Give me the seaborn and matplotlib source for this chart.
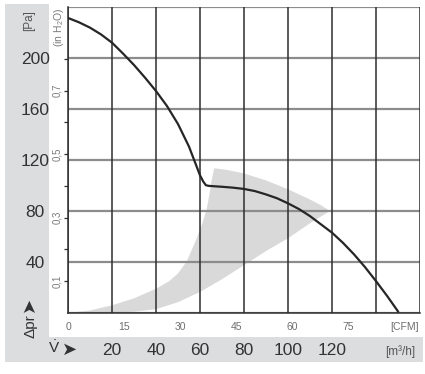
import matplotlib
matplotlib.use("Agg")
import matplotlib.pyplot as plt
from matplotlib.patches import Rectangle
import seaborn as sns

# fan curve: flow in m3/h, static pressure in Pa
flow = [0, 5, 10, 15, 20, 25, 30, 35, 40, 45, 50, 55, 58, 60, 61.5, 62.7, 64,
        70, 75, 80, 85, 90, 95, 100, 105, 110, 115, 120, 125, 130, 135, 140, 145, 150.1]
pressure = [231.4, 228, 223.8, 218.5, 212, 203.5, 194.5, 184.6, 174.1, 162.3, 148.2, 130.5, 117, 108, 103, 100.2, 99.7,
            99, 98.3, 97.3, 95.6, 93, 90, 86, 81.5, 76, 69.5, 63, 55, 46, 36, 25, 13.5, 1]

# grey working range (fan shaped)
shade_flow = [0, 10, 20, 30, 40, 46, 50, 54, 58.5, 61, 63, 64.5, 65.5, 66.5,
              72, 79.7, 90, 100, 110, 115, 119.1,
              110, 100, 90, 80, 70, 60, 50, 40, 30, 20, 10]
shade_pa = [0, 2, 6, 11.5, 19, 25, 31, 40.5, 58.5, 70, 81, 95, 106, 113.5,
            112.3, 109.6, 104, 97, 89, 84.5, 80,
            70.4, 58.6, 48.6, 37.5, 26.5, 16.5, 8.5, 3, 1, 0.4, 0.1]

pa_ticks = [0, 40, 80, 120, 160, 200, 240]
pa_labels = ["", "40", "80", "120", "160", "200", ""]
m3h_grid = [0, 20, 40, 60, 80, 100, 120, 140, 160]
m3h_labels = [20, 40, 60, 80, 100, 120]
cfm_ticks = [0, 15, 30, 45, 60, 75, 90]
cfm_labels = ["0", "15", "30", "45", "60", "75", "[CFM]"]
inh2o_ticks = [0.1, 0.2, 0.3, 0.4, 0.5, 0.6, 0.7, 0.8]
inh2o_labels = ["0,1", "", "0,3", "", "0,5", "", "0,7", ""]

CFM = 1.699   # m3/h per CFM
INWG = 249.09  # Pa per inch H2O

sns.set_style("white")
plt.rcParams["font.family"] = ["Liberation Sans", "DejaVu Sans"]
plt.rcParams["mathtext.fontset"] = "custom"
plt.rcParams["mathtext.rm"] = "Liberation Sans"
plt.rcParams["mathtext.it"] = "Liberation Sans:italic"

W, H = 425, 374
fig = plt.figure(figsize=(W / 100, H / 100), dpi=100)
fig.patch.set_facecolor("white")

panel = "#dcdddf"
fig.add_artist(Rectangle((5 / W, (H - 362) / H), 44 / W, 358 / H,
                         transform=fig.transFigure, color=panel, zorder=-5, lw=0))
fig.add_artist(Rectangle((5 / W, (H - 362) / H), 418 / W, 25 / H,
                         transform=fig.transFigure, color=panel, zorder=-5, lw=0))

ax = fig.add_axes([68 / W, (H - 313) / H, 352 / W, 306 / H])
ax.set_xlim(0, 160)
ax.set_ylim(0, 240)

ax.fill(shade_flow, shade_pa, color="#d9d9d9", lw=0, zorder=0.2)
sns.lineplot(x=flow, y=pressure, sort=False, ax=ax, color="#262626", lw=1.6, zorder=3)

# grid: grey horizontals, dark verticals
for p in pa_ticks:
    ax.axhline(p, color="#8c8c8c", lw=1.6, zorder=1)
for q in m3h_grid:
    ax.axvline(q, color="#2e2e2e", lw=1.1, zorder=1.5)

for s in ["left", "bottom"]:
    ax.spines[s].set_color("#2e2e2e")
    ax.spines[s].set_linewidth(1.1)
    ax.spines[s].set_zorder(2)
ax.spines["top"].set_visible(False)
ax.spines["right"].set_visible(False)

# Pa labels inside grey strip
ax.set_yticks(pa_ticks)
ax.set_yticklabels(pa_labels)
ax.tick_params(axis="y", length=0, pad=23.5, labelsize=12.5, labelcolor="#333333")
for t in ax.get_yticklabels():
    t.set_horizontalalignment("center")

# CFM ticks on the bottom axis
ax.set_xticks([c * CFM for c in cfm_ticks])
ax.set_xticklabels(cfm_labels)
ax.tick_params(axis="x", length=3.5, width=0.9, color="#2e2e2e", pad=3,
               labelsize=7.5, labelcolor="#6e6e6e", direction="out")

# inch H2O on the left spine
sec = ax.secondary_yaxis("left", functions=(lambda p: p / INWG, lambda h: h * INWG))
sec.set_yticks(inh2o_ticks)
sec.set_yticklabels(inh2o_labels)
sec.tick_params(length=3, width=0.9, color="#2e2e2e", pad=1.5, labelsize=7,
                labelcolor="#7a7a7a")
for t in sec.get_yticklabels():
    t.set_rotation(90)
    t.set_verticalalignment("center")
sec.spines["left"].set_visible(False)

# m3/h scale in the bottom strip
tr = ax.get_xaxis_transform()
for v in m3h_labels:
    ax.text(v, -0.121, str(v), transform=tr, ha="center", va="center",
            fontsize=12.5, color="#333333", clip_on=False)
ax.text(151, -0.127, "[m³/h]", transform=tr, ha="center", va="center",
        fontsize=8.5, color="#555555", clip_on=False)

fig.text(29 / W, 1 - 21 / H, "[Pa]", rotation=90, ha="center", va="center",
         fontsize=8.5, color="#555555")
fig.text(59 / W, 1 - 27 / H, "(in H$_2$O)", rotation=90, ha="center", va="center",
         fontsize=7.5, color="#7a7a7a")
fig.text(30 / W, 1 - 326 / H, "Δpr", rotation=90, ha="center", va="center",
         fontsize=11, color="#333333")
fig.text(29 / W, 1 - 304 / H, "➤", rotation=90, ha="center", va="center",
         fontsize=13, color="#333333", family="DejaVu Sans")
fig.text(54 / W, 1 - 348 / H, r"$\dot{\mathrm{V}}$", ha="center", va="center",
         fontsize=11, color="#333333")
fig.text(70 / W, 1 - 350 / H, "➤", ha="center", va="center",
         fontsize=13, color="#333333", family="DejaVu Sans")

fig.savefig("out.png", dpi=100)
